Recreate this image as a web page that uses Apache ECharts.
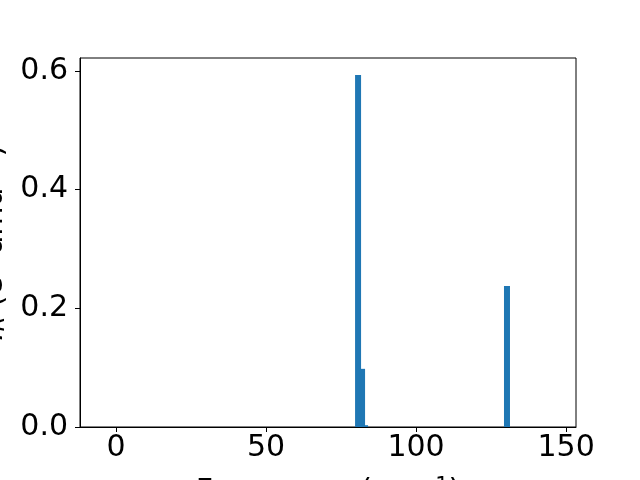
<!DOCTYPE html>
<html>
<head>
<meta charset="utf-8">
<script src="https://cdn.jsdelivr.net/npm/echarts@6/dist/echarts.min.js"></script>
<style>html,body{margin:0;padding:0;background:#fff}#c{width:640px;height:480px}</style>
</head>
<body>
<div id="c"></div>
<script>
// Data
var frequencies = [80.67, 82.0, 83.0, 130.3];
var intensities = [0.593, 0.098, 0.003, 0.2376];
var xTicks = [0, 50, 100, 150];
var yTicks = [0.0, 0.2, 0.4, 0.6];
var barWidthUnits = 2;

var chart = echarts.init(document.getElementById('c'), null, {renderer: 'canvas'});
var font = 'DejaVu Sans';
var data = frequencies.map(function (f, i) { return [f, intensities[i]]; });

chart.setOption({
  animation: false,
  backgroundColor: '#ffffff',
  grid: {left: 80, top: 58, right: 64, bottom: 53, containLabel: false, outerBoundsMode: 'none',
    show: true, borderColor: '#000', borderWidth: 1, backgroundColor: 'transparent'},
  xAxis: {
    type: 'value', min: -12, max: 153.3,
    axisLine: {show: true, onZero: false, lineStyle: {color: '#000', width: 1}},
    axisTick: {show: true, length: 5, lineStyle: {color: '#000'}, customValues: xTicks},
    axisLabel: {show: true, margin: 6, color: '#000', fontFamily: font, fontSize: 30, customValues: xTicks},
    splitLine: {show: false},
    name: 'Frequency (cm{sup|−1})',
    nameLocation: 'middle', nameGap: 49,
    nameTextStyle: {color: '#000', fontFamily: font, fontSize: 30,
      rich: {sup: {fontFamily: font, fontSize: 21, verticalAlign: 'top', padding: [0,0,12,0], color: '#000'}}}
  },
  yAxis: {
    type: 'value', min: 0, max: 0.6217,
    axisLine: {show: true, onZero: false, lineStyle: {color: '#000', width: 1}},
    axisTick: {show: true, length: 5, lineStyle: {color: '#000'}, customValues: yTicks},
    axisLabel: {show: true, margin: 12, color: '#000', fontFamily: font, fontSize: 30, customValues: yTicks,
      formatter: function (v) { return v.toFixed(1); }},
    splitLine: {show: false},
    name: '{i|I}{sub|R} (e{sup|2} amu{sup|−1})',
    nameLocation: 'middle', nameGap: 60,
    nameTextStyle: {color: '#000', fontFamily: font, fontSize: 30,
      rich: {
        i: {fontFamily: font, fontSize: 30, fontStyle: 'italic', color: '#000'},
        sub: {fontFamily: font, fontSize: 21, fontStyle: 'italic', padding: [10,0,0,0], color: '#000'},
        sup: {fontFamily: font, fontSize: 21, padding: [0,0,12,0], color: '#000'}
      }}
  },
  series: [{
    type: 'custom',
    data: data,
    renderItem: function (params, api) {
      var x = api.value(0), y = api.value(1);
      var top = api.coord([x, y]);
      var base = api.coord([x, 0]);
      var w = api.size([barWidthUnits, 0])[0];
      return {
        type: 'rect',
        shape: {x: top[0] - w / 2, y: top[1], width: w, height: base[1] - top[1]},
        style: {fill: '#1f77b4'}
      };
    },
    clip: true
  }]
});
</script>
</body>
</html>
